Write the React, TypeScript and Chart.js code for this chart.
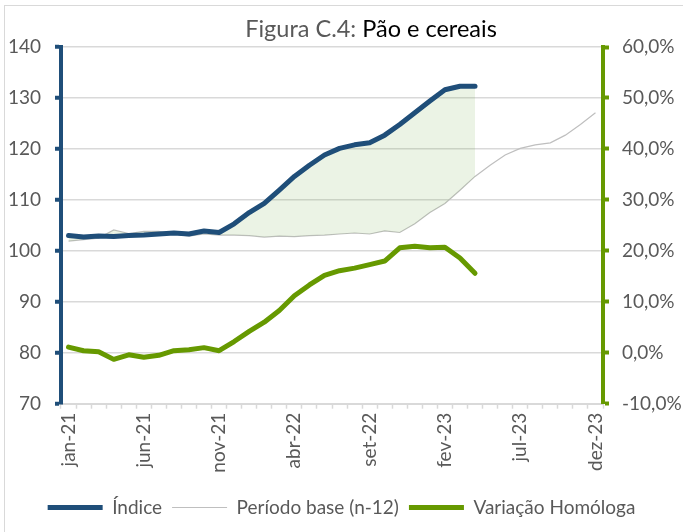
import React, { useEffect, useRef } from "react";
import { Chart, registerables } from "chart.js";

Chart.register(...registerables);

const months = ["jan", "fev", "mar", "abr", "mai", "jun", "jul", "ago", "set", "out", "nov", "dez"];
const years = ["21", "22", "23"];
const labels: string[] = [];
years.forEach((y) => months.forEach((m) => labels.push(`${m}-${y}`)));

const indice = [
  103.0, 102.7, 102.9, 102.8, 103.0, 103.1, 103.3, 103.5, 103.3, 103.9, 103.6, 105.3,
  107.5, 109.3, 111.9, 114.6, 116.8, 118.8, 120.1, 120.8, 121.2, 122.7, 124.8, 127.1,
  129.4, 131.6, 132.3, 132.3,
];

const periodoBase = [
  101.9, 102.2, 102.5, 104.1, 103.4, 103.8, 103.8, 103.3, 102.9, 103.3, 103.1, 103.1,
  103.0, 102.7, 102.9, 102.8, 103.0, 103.1, 103.3, 103.5, 103.3, 103.9, 103.6, 105.3,
  107.5, 109.3, 111.9, 114.6, 116.8, 118.8, 120.1, 120.8, 121.2, 122.7, 124.8, 127.1,
];

const variacao = [
  1.1, 0.4, 0.2, -1.3, -0.4, -0.9, -0.5, 0.4, 0.6, 1.0, 0.4, 2.2,
  4.2, 6.0, 8.3, 11.2, 13.3, 15.2, 16.1, 16.6, 17.3, 18.0, 20.6, 20.9,
  20.6, 20.7, 18.6, 15.6,
];

const titleLeft = "Figura C.4: ";
const titleRight = "Pão e cereais";

const BLUE = "#1F4E79";
const GREEN = "#669900";
const GRAY_LINE = "#BFBFBF";
const GRID = "#D9D9D9";
const TEXT = "#595959";
const FONT = "Lato";
const FS = 19;

const titlePlugin = {
  id: "twoColorTitle",
  afterDraw(chart: any) {
    const ctx = chart.ctx;
    ctx.save();
    ctx.font = `23.5px ${FONT}`;
    const wa = ctx.measureText(titleLeft).width;
    const wb = ctx.measureText(titleRight).width;
    const x0 = 371 - (wa + wb) / 2;
    ctx.textBaseline = "middle";
    ctx.textAlign = "left";
    ctx.fillStyle = TEXT;
    ctx.fillText(titleLeft, x0, 29);
    ctx.fillStyle = "#000000";
    ctx.fillText(titleRight, x0 + wa, 29);
    ctx.restore();
  },
};

export default function App() {
  const canvasRef = useRef<HTMLCanvasElement | null>(null);

  useEffect(() => {
    let chart: Chart | null = null;
    let cancelled = false;
    const make = () => {
      if (cancelled || !canvasRef.current) return;
      chart = new Chart(canvasRef.current, {
        type: "line",
        data: {
          labels,
          datasets: [
            {
              label: "Índice",
              data: indice,
              borderColor: BLUE,
              backgroundColor: BLUE,
              borderWidth: 5,
              pointRadius: 0,
              borderCapStyle: "round",
              borderJoinStyle: "round",
              yAxisID: "y",
              fill: { target: 1, above: "rgba(112,173,71,0.14)", below: "rgba(112,173,71,0.14)" },
              order: 1,
            },
            {
              label: "Período base (n-12)",
              data: periodoBase,
              borderColor: GRAY_LINE,
              backgroundColor: GRAY_LINE,
              borderWidth: 1.2,
              pointRadius: 0,
              yAxisID: "y",
              fill: false,
              order: 2,
            },
            {
              label: "Variação Homóloga",
              data: variacao,
              borderColor: GREEN,
              backgroundColor: GREEN,
              borderWidth: 5,
              pointRadius: 0,
              borderCapStyle: "round",
              borderJoinStyle: "round",
              yAxisID: "y1",
              fill: false,
              order: 0,
            },
          ],
        },
        options: {
          responsive: false,
          animation: false,
          layout: { padding: { top: 47, bottom: 5, left: 0, right: 0 } },
          plugins: {
            title: { display: false },
            tooltip: { enabled: false },
            legend: {
              position: "bottom",
              labels: {
                usePointStyle: true,
                pointStyle: "line",
                pointStyleWidth: 55,
                color: TEXT,
                font: { family: FONT, size: FS },
                padding: 10,
                sort: (a: any, b: any) => a.datasetIndex - b.datasetIndex,
              },
            },
          },
          scales: {
            x: {
              offset: true,
              afterFit: (s: any) => { s.height = 84.3; },
              border: { display: true, color: GRID, width: 2 },
              grid: {
                offset: true,
                drawOnChartArea: false,
                drawTicks: true,
                tickLength: 5,
                tickColor: GRID,
                tickWidth: 1.5,
              },
              ticks: {
                autoSkip: false,
                maxRotation: 90,
                minRotation: 90,
                padding: 4,
                color: TEXT,
                font: { family: FONT, size: FS },
                callback: (_v: any, i: number) => (i % 5 === 0 ? labels[i] : ""),
              },
            },
            y: {
              position: "left",
              min: 70,
              max: 140,
              afterFit: (s: any) => { s.width = 61; },
              border: { display: true, color: BLUE, width: 4 },
              grid: {
                color: GRID,
                lineWidth: 1.5,
                tickColor: BLUE,
                tickWidth: 4,
                tickLength: 6,
              },
              ticks: {
                stepSize: 10,
                padding: 14,
                color: TEXT,
                font: { family: FONT, size: FS },
              },
            },
            y1: {
              position: "right",
              min: -10,
              max: 60,
              afterFit: (s: any) => { s.width = 80; },
              border: { display: true, color: GREEN, width: 4 },
              grid: {
                drawOnChartArea: false,
                tickColor: GREEN,
                tickWidth: 4,
                tickLength: 6,
              },
              ticks: {
                stepSize: 10,
                padding: 13,
                color: TEXT,
                font: { family: FONT, size: FS },
                callback: (v: any) => Number(v).toFixed(1).replace(".", ",") + "%",
              },
            },
          },
        },
        plugins: [titlePlugin],
      } as any);
    };
    const fontsApi: any = (document as any).fonts;
    if (fontsApi && fontsApi.load) {
      Promise.all([fontsApi.load(`${FS}px ${FONT}`), fontsApi.load(`23.5px ${FONT}`)]).then(make, make);
    } else {
      make();
    }
    return () => {
      cancelled = true;
      if (chart) chart.destroy();
    };
  }, []);

  return (
    <div
      style={{
        position: "fixed",
        left: 0,
        top: 0,
        width: 683,
        height: 532,
        overflow: "hidden",
        background: "#ffffff",
      }}
    >
      <div
        style={{
          position: "absolute",
          left: 4,
          top: 5,
          width: 800,
          height: 700,
          border: "1.5px solid #D9D9D9",
          boxSizing: "border-box",
        }}
      />
      <canvas
        ref={canvasRef}
        width={683}
        height={532}
        style={{ position: "absolute", left: 0, top: 0, width: 683, height: 532 }}
      />
    </div>
  );
}
